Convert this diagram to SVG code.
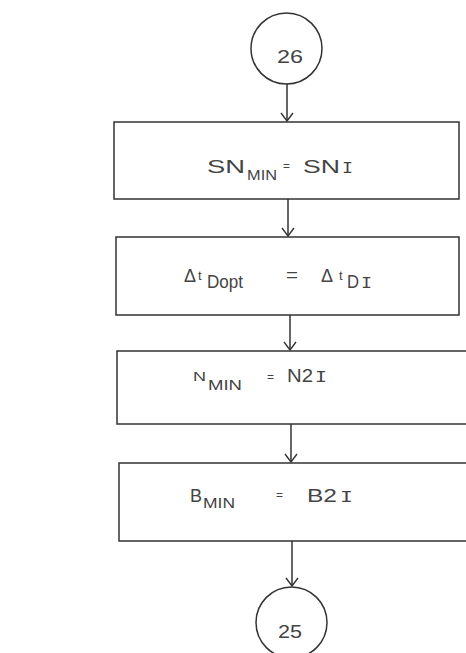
<svg xmlns="http://www.w3.org/2000/svg" width="466" height="653" viewBox="0 0 466 653">
<defs>
<marker id="arr" markerWidth="10" markerHeight="14" refX="9" refY="7" orient="auto" markerUnits="userSpaceOnUse" viewBox="0 0 10 14">
<polyline points="1,1 9,7 1,13" fill="none" stroke="#333" stroke-width="1.4"/>
</marker>
</defs>
<style>
.shape{fill:#fff;stroke:#333;stroke-width:1.5}
.conn{fill:none;stroke:#333;stroke-width:1.5}
text{font-family:"Liberation Sans","DejaVu Sans",sans-serif;fill:#444}
.m{font-size:18px}
.s{font-size:15px}
.t{font-size:13px}
.eq{font-size:12px}
.rom{font-family:"Liberation Mono",monospace;font-size:17px}
</style>
<rect width="466" height="653" fill="#fff"/>
<g id="connectors">
<line class="conn" x1="287" y1="84" x2="287" y2="121" marker-end="url(#arr)"/>
<line class="conn" x1="288" y1="199" x2="288" y2="236" marker-end="url(#arr)"/>
<line class="conn" x1="290" y1="315" x2="290" y2="350" marker-end="url(#arr)"/>
<line class="conn" x1="291" y1="424" x2="291" y2="462" marker-end="url(#arr)"/>
<line class="conn" x1="292" y1="541" x2="292" y2="586" marker-end="url(#arr)"/>
</g>
<g id="c26">
<circle class="shape" cx="286.5" cy="48.5" r="35.5"/>
<text class="m" x="277" y="63" textLength="26" lengthAdjust="spacingAndGlyphs">26</text>
</g>
<g id="box1">
<rect class="shape" x="114" y="122" width="345" height="77"/>
<text class="m" x="207" y="173" textLength="38" lengthAdjust="spacingAndGlyphs">SN</text>
<text class="s" x="247" y="180" textLength="30" lengthAdjust="spacingAndGlyphs">MIN</text>
<text class="eq" x="283" y="170">=</text>
<text class="m" x="303" y="173" textLength="37" lengthAdjust="spacingAndGlyphs">SN</text>
<text class="rom" x="342" y="173" textLength="11" lengthAdjust="spacingAndGlyphs">I</text>
</g>
<g id="box2">
<rect class="shape" x="116" y="237" width="343" height="78"/>
<text class="m" x="184" y="282" textLength="12" lengthAdjust="spacingAndGlyphs">Δ</text>
<text class="t" x="198" y="280">t</text>
<text class="m" x="207" y="288" textLength="36" lengthAdjust="spacingAndGlyphs">Dopt</text>
<text class="m" x="286" y="281" textLength="12" lengthAdjust="spacingAndGlyphs">=</text>
<text class="m" x="321" y="282" textLength="12" lengthAdjust="spacingAndGlyphs">Δ</text>
<text class="t" x="339" y="280">t</text>
<text class="m" x="347" y="288" textLength="12" lengthAdjust="spacingAndGlyphs">D</text>
<text class="rom" x="361" y="288" textLength="11" lengthAdjust="spacingAndGlyphs">I</text>
</g>
<g id="box3">
<path class="shape" d="M470 351 H117 V424 H470"/>
<text class="t" x="193" y="381" textLength="13" lengthAdjust="spacingAndGlyphs">N</text>
<text class="s" x="208" y="390" textLength="34" lengthAdjust="spacingAndGlyphs">MIN</text>
<text class="eq" x="267" y="381">=</text>
<text class="m" x="287" y="382" textLength="26" lengthAdjust="spacingAndGlyphs">N2</text>
<text class="rom" x="315" y="382" textLength="12" lengthAdjust="spacingAndGlyphs">I</text>
</g>
<g id="box4">
<path class="shape" d="M470 463 H119 V541 H470"/>
<text class="m" x="190" y="502" textLength="12" lengthAdjust="spacingAndGlyphs">B</text>
<text class="s" x="203" y="508" textLength="32" lengthAdjust="spacingAndGlyphs">MIN</text>
<text class="eq" x="276" y="499">=</text>
<text class="m" x="307" y="502" textLength="30" lengthAdjust="spacingAndGlyphs">B2</text>
<text class="rom" x="340" y="502" textLength="13" lengthAdjust="spacingAndGlyphs">I</text>
</g>
<g id="c25">
<circle class="shape" cx="291.5" cy="622.5" r="35.5"/>
<text class="m" x="278" y="638" textLength="24" lengthAdjust="spacingAndGlyphs">25</text>
</g>
</svg>
